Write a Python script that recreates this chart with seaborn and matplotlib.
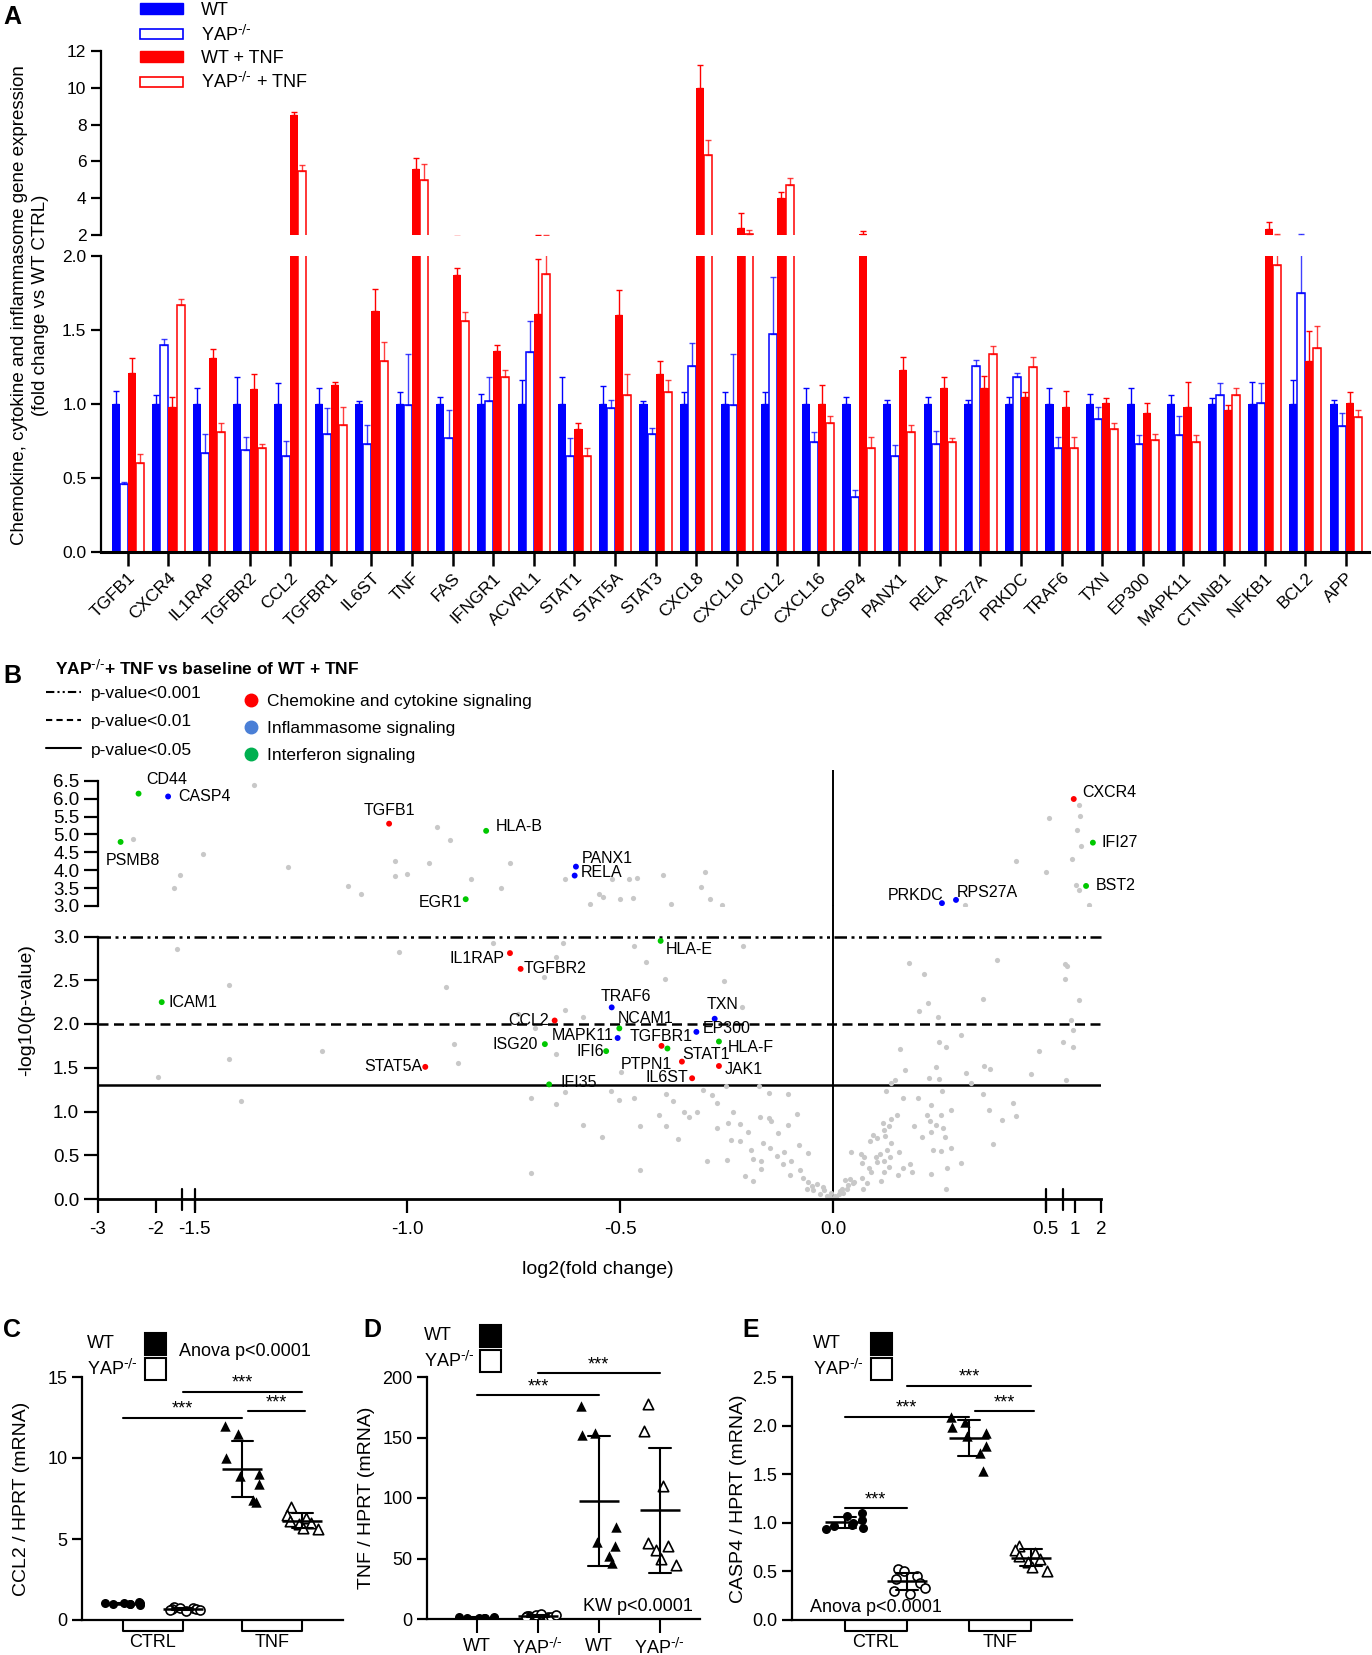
import numpy as np
import pandas as pd
import matplotlib
matplotlib.use("Agg")
import matplotlib.pyplot as plt
import matplotlib.transforms as mtransforms
from matplotlib.patches import Patch, Rectangle
from matplotlib.lines import Line2D
import seaborn as sns

# ======================= DATA =======================
# ---- Panel A ----
genes_A = ["TGFB1", "CXCR4", "IL1RAP", "TGFBR2", "CCL2", "TGFBR1", "IL6ST", "TNF", "FAS", "IFNGR1",
           "ACVRL1", "STAT1", "STAT5A", "STAT3", "CXCL8", "CXCL10", "CXCL2", "CXCL16", "CASP4", "PANX1",
           "RELA", "RPS27A", "PRKDC", "TRAF6", "TXN", "EP300", "MAPK11", "CTNNB1", "NFKB1", "BCL2", "APP"]
groups_A = ["WT", r"YAP$^{\text{-/-}}$", "WT + TNF", r"YAP$^{\text{-/-}}$ + TNF"]
wt_mean = [1.00, 1.00, 1.00, 1.00, 1.00, 1.00, 1.00, 1.00, 1.00, 1.00, 1.00, 1.00, 1.00, 1.00, 1.00, 1.00,
           1.00, 1.00, 1.00, 1.00, 1.00, 1.00, 1.00, 1.00, 1.00, 1.00, 1.00, 1.00, 1.00, 1.00, 1.00]
wt_err = [0.09, 0.06, 0.11, 0.18, 0.14, 0.11, 0.02, 0.08, 0.05, 0.07, 0.16, 0.18, 0.12, 0.02, 0.08, 0.08,
          0.08, 0.11, 0.05, 0.03, 0.05, 0.03, 0.05, 0.11, 0.07, 0.11, 0.06, 0.04, 0.15, 0.16, 0.03]
yap_mean = [0.46, 1.40, 0.67, 0.69, 0.65, 0.80, 0.73, 0.99, 0.77, 1.02, 1.35, 0.65, 0.97, 0.80, 1.26, 0.99,
            1.47, 0.74, 0.37, 0.65, 0.73, 1.26, 1.18, 0.70, 0.90, 0.73, 0.79, 1.06, 1.01, 1.75, 0.85]
yap_err = [0.01, 0.04, 0.13, 0.09, 0.10, 0.17, 0.13, 0.35, 0.19, 0.16, 0.21, 0.12, 0.06, 0.04, 0.15, 0.35,
           0.39, 0.07, 0.05, 0.07, 0.09, 0.04, 0.03, 0.08, 0.08, 0.06, 0.13, 0.08, 0.13, 0.28, 0.09]
wt_tnf_mean = [1.21, 0.98, 1.31, 1.10, 8.51, 1.13, 1.63, 5.59, 1.87, 1.36, 1.61, 0.83, 1.60, 1.20, 10.0, 2.40,
               3.99, 1.00, 2.04, 1.23, 1.11, 1.11, 1.05, 0.98, 1.01, 0.94, 0.98, 0.96, 2.31, 1.29, 1.01]
wt_tnf_err = [0.10, 0.07, 0.06, 0.10, 0.19, 0.02, 0.15, 0.61, 0.05, 0.04, 0.37, 0.04, 0.17, 0.09, 1.25, 0.79,
              0.35, 0.13, 0.20, 0.09, 0.07, 0.08, 0.03, 0.11, 0.03, 0.07, 0.17, 0.03, 0.42, 0.20, 0.07]
yap_tnf_mean = [0.60, 1.67, 0.81, 0.70, 5.49, 0.86, 1.29, 4.99, 1.56, 1.18, 1.88, 0.65, 1.06, 1.08, 6.33, 2.03,
                4.72, 0.87, 0.70, 0.81, 0.74, 1.34, 1.25, 0.70, 0.83, 0.76, 0.74, 1.06, 1.94, 1.38, 0.91]
yap_tnf_err = [0.06, 0.04, 0.06, 0.03, 0.31, 0.12, 0.13, 0.88, 0.06, 0.05, 0.14, 0.05, 0.14, 0.08, 0.85, 0.24,
               0.38, 0.05, 0.08, 0.05, 0.03, 0.05, 0.07, 0.08, 0.04, 0.04, 0.05, 0.05, 0.11, 0.15, 0.05]

# ---- Panel B ----
names_B = ["CD44", "CASP4", "PSMB8", "TGFB1", "HLA-B", "PANX1", "RELA", "EGR1", "CXCR4", "IFI27", "BST2",
           "PRKDC", "RPS27A", "HLA-E", "IL1RAP", "TGFBR2", "ICAM1", "TRAF6", "TXN", "CCL2", "NCAM1", "EP300",
           "MAPK11", "TGFBR1", "STAT1", "HLA-F", "ISG20", "IFI6", "PTPN1", "JAK1", "STAT5A", "IL6ST", "IFI35"]
lfc_B = [-2.30, -1.79, -2.61, -1.043, -0.815, -0.604, -0.607, -0.863, 0.96, 1.69, 1.43,
         0.256, 0.289, -0.405, -0.759, -0.734, -1.90, -0.52, -0.278, -0.654, -0.502, -0.321,
         -0.506, -0.403, -0.389, -0.268, -0.677, -0.533, -0.355, -0.268, -0.958, -0.331, -0.667]
nlp_B = [6.14, 6.06, 4.79, 5.30, 5.10, 4.10, 3.85, 3.19, 5.99, 4.77, 3.56,
         3.08, 3.17, 2.95, 2.81, 2.63, 2.25, 2.19, 2.06, 2.04, 1.95, 1.91,
         1.84, 1.75, 1.72, 1.80, 1.77, 1.69, 1.57, 1.52, 1.51, 1.38, 1.31]
path_B = ["Interferon", "Inflammasome", "Interferon", "Chemokine", "Interferon", "Inflammasome",
          "Inflammasome", "Interferon", "Chemokine", "Interferon", "Interferon", "Inflammasome",
          "Inflammasome", "Interferon", "Chemokine", "Chemokine", "Interferon", "Inflammasome",
          "Inflammasome", "Chemokine", "Interferon", "Inflammasome", "Inflammasome", "Chemokine",
          "Interferon", "Interferon", "Interferon", "Interferon", "Chemokine", "Chemokine",
          "Chemokine", "Chemokine", "Interferon"]
gray_points = [
    (-1.36, 6.39), (-2.40, 4.88), (-1.48, 4.46), (-1.59, 3.87), (-1.68, 3.50), (-1.28, 4.09), (-1.14, 3.56),
    (-1.11, 3.34), (-1.03, 4.27), (-1.03, 3.84), (-1.00, 3.90), (-0.95, 4.21), (-0.93, 5.21), (-0.90, 4.85),
    (-0.85, 3.76), (-0.78, 3.51), (-0.76, 4.21), (-0.63, 3.76), (-0.55, 3.34), (-0.54, 3.26), (-0.57, 3.06),
    (-0.52, 3.76), (-0.50, 3.20), (-0.48, 3.76), (-0.47, 3.22), (-0.46, 3.79), (-0.40, 3.87), (-0.38, 3.06),
    (-0.30, 3.95), (-0.31, 3.53), (-0.29, 3.20), (-0.26, 3.02),
    (0.51, 5.47), (1.16, 5.83), (1.20, 5.52), (1.08, 5.13), (1.22, 4.68), (0.90, 4.32), (0.43, 4.26),
    (0.50, 3.95), (1.05, 3.59), (1.15, 3.45), (1.55, 3.02), (0.31, 3.03),
    (-1.63, 2.86), (-1.42, 2.45), (-1.02, 2.82), (-0.91, 2.42), (-0.80, 2.93), (-0.65, 2.77), (-0.68, 2.54),
    (-0.74, 2.11), (-0.70, 1.95), (-0.89, 1.77), (-0.88, 1.55), (-1.20, 1.69), (-1.42, 1.60), (-1.97, 1.39),
    (-1.39, 1.12), (-0.65, 1.66), (-0.71, 1.15), (-0.65, 1.09), (-0.63, 1.22), (-0.71, 0.30),
    (-0.635, 2.93), (-0.468, 2.89), (-0.212, 2.89), (-0.439, 2.71), (-0.394, 2.51), (-0.255, 2.49),
    (-0.630, 2.16), (-0.214, 2.19), (-0.588, 2.08), (-0.499, 1.45), (-0.522, 1.23), (-0.502, 1.13),
    (-0.468, 1.15), (-0.392, 1.20), (-0.375, 1.12), (-0.408, 0.96), (-0.350, 1.00), (-0.319, 0.99),
    (-0.338, 0.94), (-0.305, 1.25), (-0.285, 1.19), (-0.251, 1.29), (-0.173, 1.29), (-0.150, 1.21),
    (-0.105, 1.20), (-0.273, 1.10), (-0.234, 1.00), (-0.246, 0.87), (-0.219, 0.86), (-0.199, 0.77),
    (-0.172, 0.94), (-0.150, 0.93), (-0.145, 0.89), (-0.587, 0.85), (-0.543, 0.71), (-0.453, 0.84),
    (-0.392, 0.84), (-0.365, 0.69), (-0.273, 0.81), (-0.240, 0.68), (-0.219, 0.66), (-0.192, 0.56),
    (-0.165, 0.64), (-0.129, 0.75), (-0.106, 0.85), (-0.084, 0.97), (-0.297, 0.43), (-0.250, 0.45),
    (-0.187, 0.46), (-0.170, 0.44), (-0.148, 0.58), (-0.131, 0.49), (-0.115, 0.54), (-0.099, 0.44),
    (-0.079, 0.62), (-0.059, 0.53), (-0.453, 0.33), (-0.207, 0.26), (-0.189, 0.21), (-0.168, 0.34),
    (-0.117, 0.40), (-0.101, 0.28), (-0.078, 0.33), (-0.058, 0.20), (-0.038, 0.17), (-0.023, 0.14),
    (-0.005, 0.07), (-0.046, 0.10), (-0.015, 0.03),
    (0.179, 2.70), (0.214, 2.57), (0.385, 2.73), (0.61, 2.69), (0.71, 2.66), (0.61, 2.51), (0.223, 2.24),
    (0.201, 2.15), (0.352, 2.29), (1.17, 2.27), (0.247, 2.08), (0.84, 2.05), (0.94, 1.93), (0.301, 1.87),
    (0.248, 1.80), (0.265, 1.74), (0.56, 1.80), (0.94, 1.74), (0.157, 1.72), (0.485, 1.69), (0.170, 1.48),
    (0.242, 1.51), (0.225, 1.38), (0.248, 1.37), (0.312, 1.44), (0.325, 1.33), (0.355, 1.52), (0.369, 1.49),
    (0.465, 1.43), (0.66, 1.36), (0.136, 1.33), (0.146, 1.36), (0.125, 1.24), (0.165, 1.15), (0.200, 1.15),
    (0.256, 1.24), (0.353, 1.20), (0.422, 1.10), (0.230, 1.08), (0.366, 1.02), (0.430, 0.95), (0.277, 1.02),
    (0.222, 0.96), (0.253, 0.96), (0.150, 0.96), (0.136, 0.92), (0.228, 0.89), (0.243, 0.85), (0.258, 0.81),
    (0.397, 0.90), (0.117, 0.87), (0.131, 0.84), (0.190, 0.84), (0.230, 0.77), (0.120, 0.79), (0.095, 0.73),
    (0.087, 0.66), (0.104, 0.70), (0.123, 0.72), (0.137, 0.64), (0.209, 0.71), (0.264, 0.71), (0.375, 0.63),
    (0.043, 0.54), (0.065, 0.51), (0.074, 0.48), (0.101, 0.48), (0.110, 0.52), (0.126, 0.56), (0.134, 0.48),
    (0.154, 0.54), (0.234, 0.56), (0.254, 0.55), (0.277, 0.58), (0.068, 0.41), (0.085, 0.35), (0.103, 0.42),
    (0.120, 0.44), (0.131, 0.37), (0.165, 0.35), (0.181, 0.40), (0.267, 0.36), (0.300, 0.41), (0.028, 0.22),
    (0.040, 0.23), (0.048, 0.18), (0.068, 0.24), (0.079, 0.18), (0.090, 0.31), (0.112, 0.21), (0.120, 0.31),
    (0.153, 0.28), (0.186, 0.31), (0.230, 0.29), (0.021, 0.11), (0.032, 0.12), (0.013, 0.06), (0.070, 0.12),
    (0.266, 0.11), (0.005, 0.04), (0.024, 0.07),
    (-0.010, 0.02), (0.008, 0.02), (-0.030, 0.06), (-0.060, 0.12), (0.016, 0.09), (-0.020, 0.10),
    (0.035, 0.16), (-0.050, 0.15), (0.000, 0.01), (-0.070, 0.24), (0.050, 0.20),
]
xticks_B = [-3, -2, -1.5, -1.0, -0.5, 0.0, 0.5, 1, 2]
xticklabels_B = ["-3", "-2", "-1.5", "-1.0", "-0.5", "0.0", "0.5", "1", "2"]

# ---- Panels C, D, E ----
groups_CDE = ["WT CTRL", "YAP CTRL", "WT TNF", "YAP TNF"]
ccl2_wt_ctrl = [1.10, 1.06, 1.03, 1.00, 0.98, 0.96, 0.94, 1.02]
ccl2_yap_ctrl = [0.82, 0.76, 0.72, 0.70, 0.67, 0.63, 0.60, 0.58]
ccl2_wt_tnf = [12.0, 11.5, 10.0, 9.0, 8.9, 8.4, 7.4, 7.3]
ccl2_yap_tnf = [7.0, 6.5, 6.3, 6.1, 6.0, 5.9, 5.7, 5.6]
tnf_wt_ctrl = [1.5, 1.2, 1.0, 0.9, 0.8, 1.1, 0.7, 1.3]
tnf_yap_ctrl = [2.5, 3.5, 1.8, 2.2, 1.5, 3.0, 2.0, 4.0]
tnf_wt_tnf = [176, 154, 152, 76, 64, 60, 52, 46]
tnf_yap_tnf = [178, 155, 110, 63, 60, 57, 50, 45]
casp4_wt_ctrl = [1.10, 1.07, 1.03, 1.00, 0.98, 0.97, 0.95, 0.94]
casp4_yap_ctrl = [0.52, 0.50, 0.45, 0.42, 0.38, 0.33, 0.30, 0.27]
casp4_wt_tnf = [2.09, 2.04, 1.99, 1.92, 1.89, 1.79, 1.72, 1.53]
casp4_yap_tnf = [0.76, 0.72, 0.69, 0.66, 0.63, 0.60, 0.55, 0.50]
sig_C = [(0, 2, 12.5), (1, 3, 14.1), (2.1, 3.05, 12.9)]
sig_D = [(0, 2, 185), (1, 3, 203)]
sig_E = [(0, 1, 1.15), (0, 2, 2.09), (1, 3, 2.41), (2.1, 3.05, 2.15)]
legend_labels_CDE = ["WT", r"YAP$^{\text{-/-}}$"]

# ======================= STYLE =======================
sns.set_theme(style="ticks", rc={"axes.edgecolor": "black", "xtick.color": "black", "ytick.color": "black",
                                 "text.color": "black", "axes.labelcolor": "black"})
plt.rcParams["font.family"] = ["Liberation Sans", "DejaVu Sans"]
plt.rcParams["mathtext.default"] = "regular"
plt.rcParams["axes.linewidth"] = 1.6

W, H = 1372, 1655
fig = plt.figure(figsize=(W / 100, H / 100), dpi=100)


def px_axes(left, top, right, bottom):
    return fig.add_axes([left / W, 1 - bottom / H, (right - left) / W, (bottom - top) / H])


# ======================= PANEL A =======================
dfA = pd.DataFrame({
    "gene": genes_A * 4,
    "group": np.repeat(groups_A, len(genes_A)),
    "value": np.concatenate([wt_mean, yap_mean, wt_tnf_mean, yap_tnf_mean]),
})
means_A = [wt_mean, yap_mean, wt_tnf_mean, yap_tnf_mean]
errs_A = [wt_err, yap_err, wt_tnf_err, yap_tnf_err]
colors_A = ["#0000FF", "#0000FF", "#FF0000", "#FF0000"]
hollow_A = [False, True, False, True]

axA_hi = px_axes(101, 51, 1369, 235)
axA_lo = px_axes(101, 256, 1369, 552)
for ax in (axA_hi, axA_lo):
    sns.barplot(data=dfA, x="gene", y="value", hue="group", order=genes_A, hue_order=groups_A,
                palette=colors_A, saturation=1, width=0.8, errorbar=None, legend=False, ax=ax)
    for cont, col, hol, m, e in zip(ax.containers, colors_A, hollow_A, means_A, errs_A):
        xs = []
        for bar in cont:
            if hol:
                bar.set_facecolor("white")
                bar.set_edgecolor(col)
                bar.set_linewidth(1.1)
            else:
                bar.set_linewidth(0)
            xs.append(bar.get_x() + bar.get_width() / 2)
        ax.errorbar(xs, m, yerr=[np.zeros(len(m)), e], fmt="none", ecolor=col,
                    alpha=0.75 if hol else 1.0, elinewidth=1.0, capsize=2, capthick=1.0)
    ax.set_xlim(-0.66, 30.57)
    ax.set_xlabel("")
    ax.set_ylabel("")
    sns.despine(ax=ax)
    ax.tick_params(axis="y", length=7, width=1.6, labelsize=12.5)

axA_hi.set_ylim(2, 12)
axA_hi.set_yticks([2, 4, 6, 8, 10, 12])
axA_hi.spines["bottom"].set_visible(False)
axA_hi.tick_params(axis="x", bottom=False, labelbottom=False)

axA_lo.set_ylim(0, 2)
axA_lo.set_yticks([0, 0.5, 1.0, 1.5, 2.0])
axA_lo.set_yticklabels(["0.0", "0.5", "1.0", "1.5", "2.0"])
axA_lo.set_xticks(range(len(genes_A)))
axA_lo.set_xticklabels(genes_A, rotation=45, ha="right", rotation_mode="anchor", fontsize=12.5)
axA_lo.tick_params(axis="x", length=10, width=1.8, pad=3)
axA_lo.spines["bottom"].set_linewidth(2.2)

legA_handles = [Patch(facecolor="#0000FF", edgecolor="#0000FF"),
                Patch(facecolor="white", edgecolor="#0000FF", linewidth=1.2),
                Patch(facecolor="#FF0000", edgecolor="#FF0000"),
                Patch(facecolor="white", edgecolor="#FF0000", linewidth=1.2)]
fig.legend(legA_handles, groups_A, loc="upper left", bbox_to_anchor=(140 / W, 1 - 2 / H),
           frameon=False, fontsize=13, handlelength=2.4, handleheight=0.5, handletextpad=1.0,
           labelspacing=0.3, borderpad=0, borderaxespad=0)

fig.text(30 / W, 1 - 305 / H,
         "Chemokine, cytokine and inflammasome gene expression\n(fold change vs WT CTRL)",
         rotation=90, ha="center", va="center", fontsize=13.5, multialignment="center", linespacing=1.25)

# ======================= PANEL B =======================
knots_lfc = np.array([-100.0, -3.0, -1.55, -1.5, 0.5, 0.55, 2.0, 100.0])
knots_pix = np.array([98 - 97 * 58, 98, 182, 194.6, 1045.8, 1063, 1101, 1101 + 98 * 26.2])


def fwd(x):
    return np.interp(np.asarray(x, dtype=float), knots_lfc, knots_pix)


def inv(p):
    return np.interp(np.asarray(p, dtype=float), knots_pix, knots_lfc)


dfB = pd.DataFrame({"gene": names_B, "lfc": lfc_B, "nlp": nlp_B, "pathway": path_B})
dfG = pd.DataFrame({"lfc": [p[0] for p in gray_points], "nlp": [p[1] for p in gray_points]})
pathway_colors = {"Chemokine": "#FF0000", "Inflammasome": "#0000FF", "Interferon": "#00C800"}

axB_hi = px_axes(98, 770, 1101, 906)
axB_lo = px_axes(98, 936.5, 1101, 1199)
for ax, upper in ((axB_hi, True), (axB_lo, False)):
    ax.set_xscale("function", functions=(fwd, inv))
    g_sub = dfG[dfG["nlp"] >= 3.0] if upper else dfG[dfG["nlp"] < 3.0]
    c_sub = dfB[dfB["nlp"] >= 3.0] if upper else dfB[dfB["nlp"] < 3.0]
    sns.scatterplot(data=g_sub, x="lfc", y="nlp", color="#C8C8C8", s=14, linewidth=0, ax=ax, zorder=2)
    sns.scatterplot(data=c_sub, x="lfc", y="nlp", hue="pathway", palette=pathway_colors, s=18,
                    linewidth=0, legend=False, ax=ax, zorder=3)
    ax.set_xlim(-3, 2)
    ax.set_xlabel("")
    ax.set_ylabel("")
    ax.spines["top"].set_visible(False)
    ax.spines["right"].set_visible(False)
    ax.tick_params(axis="y", length=10, width=1.6, labelsize=13.5)

axB_hi.set_ylim(3, 6.8)
axB_hi.set_yticks(np.arange(3.0, 6.51, 0.5))
axB_hi.set_yticklabels([f"{v:.1f}" for v in np.arange(3.0, 6.51, 0.5)])
axB_hi.spines["left"].set_bounds(3, 6.5)
axB_hi.spines["bottom"].set_visible(False)
axB_hi.tick_params(axis="x", bottom=False, labelbottom=False)
axB_hi.axvline(0, color="black", lw=1.4, zorder=1)

axB_lo.set_ylim(0, 3)
axB_lo.set_yticks(np.arange(0, 3.01, 0.5))
axB_lo.set_yticklabels([f"{v:.1f}" for v in np.arange(0, 3.01, 0.5)])
axB_lo.set_xticks(xticks_B)
axB_lo.set_xticklabels(xticklabels_B)
axB_lo.xaxis.set_minor_locator(matplotlib.ticker.NullLocator())
axB_hi.xaxis.set_minor_locator(matplotlib.ticker.NullLocator())
axB_lo.tick_params(axis="x", length=10, width=1.6, labelsize=13.5, pad=6)
axB_lo.spines["bottom"].set_linewidth(2.0)
axB_lo.axhline(3.0, color="black", lw=1.8, dashes=[5, 1.8, 1.2, 1.8, 1.2, 1.8], clip_on=False, zorder=1)
axB_lo.axhline(2.0, color="black", lw=1.8, dashes=[4, 2.2], zorder=1)
axB_lo.axhline(-np.log10(0.05), color="black", lw=1.8, zorder=1)
axB_lo.axvline(0, ymin=0, ymax=1 + 30.5 / 262.5, color="black", lw=1.4, clip_on=False, zorder=1)
tB = mtransforms.blended_transform_factory(axB_lo.transData, axB_lo.transAxes)
for xb in (-1.55, -1.5, 0.5, 0.55):
    axB_lo.plot([xb, xb], [-0.04, 0.04], transform=tB, color="black", lw=1.6, clip_on=False)

label_offsets = [(8, 14, "left"), (10, 0, "left"), (-15, -19, "left"), (0, 13, "center"), (10, 4, "left"),
                 (6, 8, "left"), (6, 3, "left"), (-3, -3, "right"), (9, 6, "left"), (9, 0, "left"),
                 (10, 0, "left"), (2, 8, "right"), (1, 7, "left"), (5, -9, "left"), (-5, -5, "right"),
                 (3, 0, "left"), (7, 0, "left"), (14, 11, "center"), (8, 14, "center"), (-6, 0, "right"),
                 (-2, 10, "left"), (6, 3, "left"), (-4, 3, "right"), (0, 9, "center"), (15, -6, "left"),
                 (9, -6, "left"), (-7, 0, "right"), (-2, 0, "right"), (-10, -3, "right"), (6, -4, "left"),
                 (-3, 0, "right"), (-4, 1, "right"), (11, 2, "left")]
for name, x, y, (dx, dy, ha) in zip(names_B, lfc_B, nlp_B, label_offsets):
    ax = axB_hi if y >= 3 else axB_lo
    ax.annotate(name, (x, y), xytext=(dx, dy), textcoords="offset pixels", ha=ha, va="center",
                fontsize=11.5, zorder=4)

fig.text(55 / W, 1 - 668 / H, r"YAP$^{\text{-/-}}$+ TNF vs baseline of WT + TNF", fontsize=12.5,
         fontweight="bold", ha="left", va="center")
line_handles = [Line2D([], [], color="black", lw=1.5, dashes=[4, 1.5, 1, 1.5, 1, 1.5]),
                Line2D([], [], color="black", lw=1.5, dashes=[3, 2]),
                Line2D([], [], color="black", lw=1.5)]
fig.legend(line_handles, ["p-value<0.001", "p-value<0.01", "p-value<0.05"], loc="upper left",
           bbox_to_anchor=(46 / W, 1 - 686 / H), frameon=False, fontsize=12.5, handlelength=2.0,
           handletextpad=0.6, labelspacing=0.75, borderpad=0, borderaxespad=0)
dot_handles = [Line2D([], [], marker="o", ls="none", color=c, markersize=9)
               for c in ["#FF0000", "#4A7FD6", "#00B050"]]
fig.legend(dot_handles, ["Chemokine and cytokine signaling", "Inflammasome signaling", "Interferon signaling"],
           loc="upper left", bbox_to_anchor=(244 / W, 1 - 694 / H), frameon=False, fontsize=12.5,
           handlelength=0.8, handletextpad=0.5, labelspacing=0.68, borderpad=0, borderaxespad=0)
fig.text(27 / W, 1 - 1010 / H, "-log10(p-value)", rotation=90, ha="center", va="center", fontsize=14)
fig.text(598 / W, 1 - 1270 / H, "log2(fold change)", ha="center", va="center", fontsize=14)

# ======================= PANELS C, D, E =======================
markers_CDE = ["o", "o", "^", "^"]
filled_CDE = [True, False, True, False]


def dot_panel(ax, values, sig):
    df = pd.DataFrame({"grp": np.repeat(groups_CDE, [len(v) for v in values]),
                       "val": np.concatenate(values)})
    np.random.seed(4)
    for g, mk, fl in zip(groups_CDE, markers_CDE, filled_CDE):
        sub = df[df["grp"] == g]
        size = 6.5 if mk == "o" else 7.5
        if fl:
            sns.stripplot(data=sub, x="grp", y="val", order=groups_CDE, marker=mk, size=size, jitter=0.3,
                          color="black", linewidth=0, ax=ax, zorder=3)
        else:
            sns.stripplot(data=sub, x="grp", y="val", order=groups_CDE, marker=mk, size=size, jitter=0.3,
                          color="white", edgecolor="black", linewidth=1.2, ax=ax, zorder=3)
    sns.pointplot(data=df, x="grp", y="val", order=groups_CDE, errorbar="sd", capsize=0.36, color="black",
                  marker="_", markersize=29, markeredgewidth=1.8, linestyle="none",
                  err_kws={"linewidth": 1.5}, ax=ax, zorder=4)
    for x0, x1, y in sig:
        ax.plot([x0, x1], [y, y], color="black", lw=1.5, clip_on=False)
        ax.annotate("***", ((x0 + x1) / 2, y), xytext=(0, 0), textcoords="offset pixels",
                    ha="center", va="bottom", fontsize=13, annotation_clip=False)
    ax.set_xlabel("")
    sns.despine(ax=ax)
    ax.tick_params(axis="y", length=7, width=1.6, labelsize=13)


def brackets(ax, labels):
    t = mtransforms.blended_transform_factory(ax.transData, ax.transAxes)
    for (x0, x1), lab in zip([(0, 1), (2, 3)], labels):
        ax.plot([x0, x0, x1, x1], [0, -0.045, -0.045, 0], transform=t, color="black", lw=1.5, clip_on=False)
        ax.text((x0 + x1) / 2, -0.058, lab, transform=t, ha="center", va="top", fontsize=13)
    ax.tick_params(axis="x", bottom=False, labelbottom=False)


def wt_yap_key(text_x, box_x, row_y):
    # legend key drawn as text + squares (WT filled, YAP-/- hollow)
    for lab, fill, yc in zip(legend_labels_CDE, ["black", "white"], row_y):
        fig.text(text_x / W, 1 - yc / H, lab, ha="left", va="center", fontsize=13)
        fig.patches.append(Rectangle((box_x / W, 1 - (yc + 11) / H), 21 / W, 22 / H, facecolor=fill,
                                     edgecolor="black", linewidth=1.5, transform=fig.transFigure,
                                     figure=fig))


axC = px_axes(82, 1377, 343, 1620)
dot_panel(axC, [ccl2_wt_ctrl, ccl2_yap_ctrl, ccl2_wt_tnf, ccl2_yap_tnf], sig_C)
axC.set_xlim(-0.68, 3.68)
axC.set_ylim(0, 15)
axC.set_yticks([0, 5, 10, 15])
axC.set_ylabel("CCL2 / HPRT (mRNA)", fontsize=14)
axC.yaxis.set_label_coords(-0.2, 0.5)
brackets(axC, ["CTRL", "TNF"])
wt_yap_key(87, 145, [1344, 1369])
axC.text(0.37, 1.105, "Anova p<0.0001", transform=axC.transAxes, ha="left", va="center", fontsize=13)

axD = px_axes(427, 1377, 700, 1619)
dot_panel(axD, [tnf_wt_ctrl, tnf_yap_ctrl, tnf_wt_tnf, tnf_yap_tnf], sig_D)
axD.set_xlim(-0.82, 3.66)
axD.set_ylim(0, 200)
axD.set_yticks([0, 50, 100, 150, 200])
axD.set_ylabel("TNF / HPRT (mRNA)", fontsize=14)
axD.yaxis.set_label_coords(-0.19, 0.5)
axD.set_xticks(range(4))
axD.set_xticklabels(["WT", r"YAP$^{\text{-/-}}$", "WT", r"YAP$^{\text{-/-}}$"], fontsize=13)
axD.tick_params(axis="x", length=10, width=1.5)
wt_yap_key(424, 480, [1336, 1361])
axD.text(0.57, 0.05, "KW p<0.0001", transform=axD.transAxes, ha="left", va="center", fontsize=13)

axE = px_axes(792, 1377, 1072, 1620)
dot_panel(axE, [casp4_wt_ctrl, casp4_yap_ctrl, casp4_wt_tnf, casp4_yap_tnf], sig_E)
axE.set_xlim(-0.85, 3.66)
axE.set_ylim(0, 2.5)
axE.set_yticks([0, 0.5, 1.0, 1.5, 2.0, 2.5])
axE.set_yticklabels(["0.0", "0.5", "1.0", "1.5", "2.0", "2.5"])
axE.set_ylabel("CASP4 / HPRT (mRNA)", fontsize=14)
axE.yaxis.set_label_coords(-0.16, 0.5)
brackets(axE, ["CTRL", "TNF"])
wt_yap_key(813, 871, [1344, 1369])
axE.text(0.065, 0.05, "Anova p<0.0001", transform=axE.transAxes, ha="left", va="center", fontsize=13)

# ======================= PANEL LETTERS =======================
for letter, xp, yp in [("A", 3, 17), ("B", 3, 676), ("C", 3, 1330), ("D", 363, 1330), ("E", 742, 1330)]:
    fig.text(xp / W, 1 - yp / H, letter, fontsize=18, fontweight="bold", ha="left", va="center")

fig.savefig("out.png", dpi=100)
